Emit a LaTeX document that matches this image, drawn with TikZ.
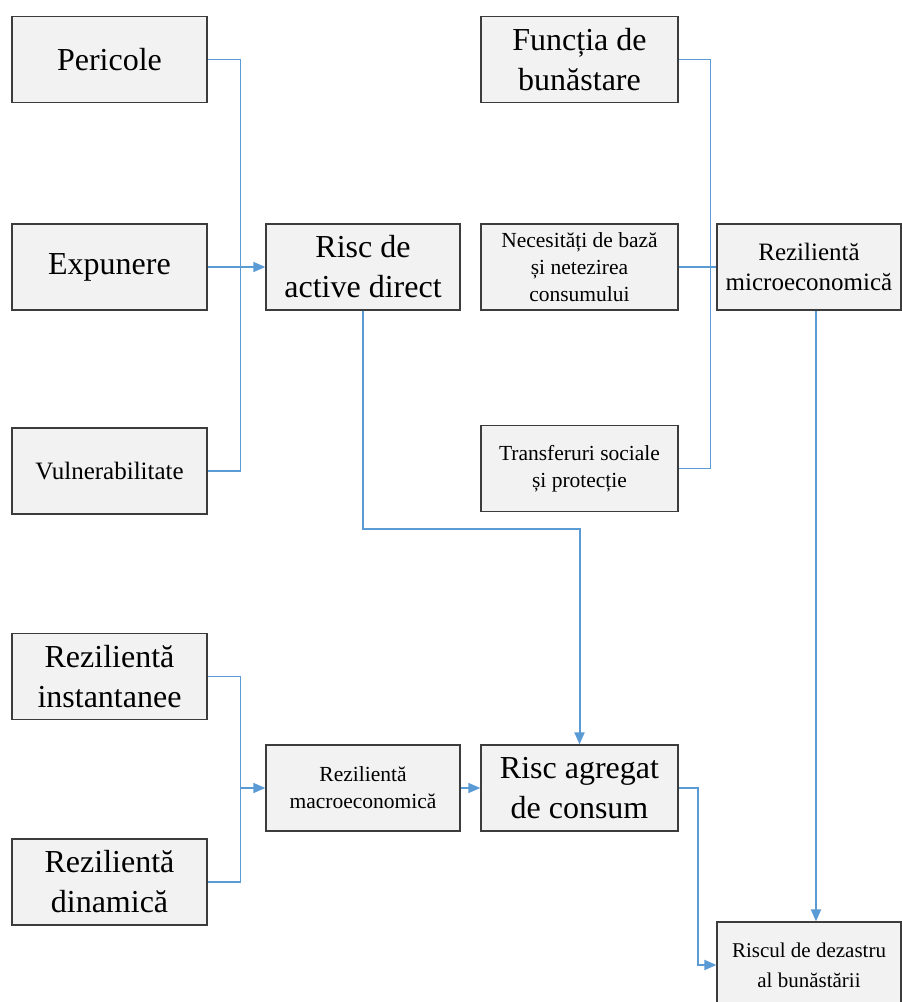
\documentclass[tikz,border=0pt]{standalone}
\usepackage{fontspec}
\setmainfont{Liberation Serif}
\usetikzlibrary{arrows.meta}
\definecolor{linkblue}{HTML}{5B9BD5}
\definecolor{boxgray}{HTML}{F2F2F2}
\definecolor{boxline}{HTML}{3C3C3C}
\tikzset{
  box/.style={draw=boxline, fill=boxgray, line width=1.3pt, minimum height=86pt, inner sep=2pt, align=center},
  bigtxt/.style={font=\fontsize{32}{40}\selectfont},
  midtxt/.style={font=\fontsize{25}{30}\selectfont},
  smalltxt/.style={font=\fontsize{21.5}{27}\selectfont},
  dztxt/.style={font=\fontsize{21}{30}\selectfont},
  link/.style={draw=linkblue, line width=1.4pt},
  thicklink/.style={draw=linkblue, line width=2pt},
  arrowtip/.style={-{Triangle[length=12pt,width=10pt]}}
}

\begin{document}
\begin{tikzpicture}[x=1pt,y=-1pt]
\useasboundingbox (0,0) rectangle (902,1002);
\fill[white] (0,0) rectangle (902,1002);
\clip (0,0) rectangle (902,1002);

\node[box,bigtxt,minimum width=195pt] (per) at (109.5,59.5) {Pericole};
\node[box,bigtxt,minimum width=195pt] (exp) at (109.5,267) {Expunere};
\node[box,midtxt,minimum width=195pt] (vul) at (109.5,471) {Vulnerabilitate};
\node[box,bigtxt,minimum width=194pt] (rad) at (363,267) {Risc de\\active direct};

\node[box,bigtxt,minimum width=197pt] (fun) at (579.5,59.5) {Funcția de\\bunăstare};
\node[box,smalltxt,minimum width=197pt] (nec) at (579.5,267) {Necesități de bază\\și netezirea\\consumului};
\node[box,smalltxt,minimum width=197pt] (tra) at (579.5,468.5) {Transferuri sociale\\și protecție};
\node[box,midtxt,minimum width=184pt] (mic) at (809,267) {Rezilientă\\microeconomică};

\node[box,bigtxt,minimum width=195pt] (ins) at (109.5,676.5) {Rezilientă\\instantanee};
\node[box,bigtxt,minimum width=195pt] (din) at (109.5,882) {Rezilientă\\dinamică};
\node[box,smalltxt,minimum width=194pt] (mac) at (363,788) {Rezilientă\\macroeconomică};
\node[box,bigtxt,minimum width=197pt] (agr) at (579.5,788) {Risc agregat\\de consum};
\node[box,dztxt,minimum width=184pt] (dez) at (809,965) {Riscul de dezastru\\al bunăstării};

\draw[link] (per.east) -- ++(33,0) |- (vul.east);
\draw[link,arrowtip] (exp.east) -- (rad.west);
\draw[thicklink,arrowtip] (rad.south) -- ++(0,218) -| (agr.north);

\draw[link] (fun.east) -- ++(32,0) |- (tra.east);
\draw[link] (nec.east) -- (mic.west);
\draw[thicklink,arrowtip] ([xshift=7pt]mic.south) -- ([xshift=7pt]mic.south |- dez.north);

\draw[link] (ins.east) -- ++(33,0) |- (din.east);
\coordinate (joinmac) at ([xshift=33pt]ins.east |- mac.west);
\draw[link,arrowtip] (joinmac) -- (mac.west);
\draw[link,arrowtip] (mac.east) -- (agr.west);
\draw[thicklink,arrowtip] (agr.east) -- ++(19,0) |- (dez.west);
\end{tikzpicture}
\end{document}
